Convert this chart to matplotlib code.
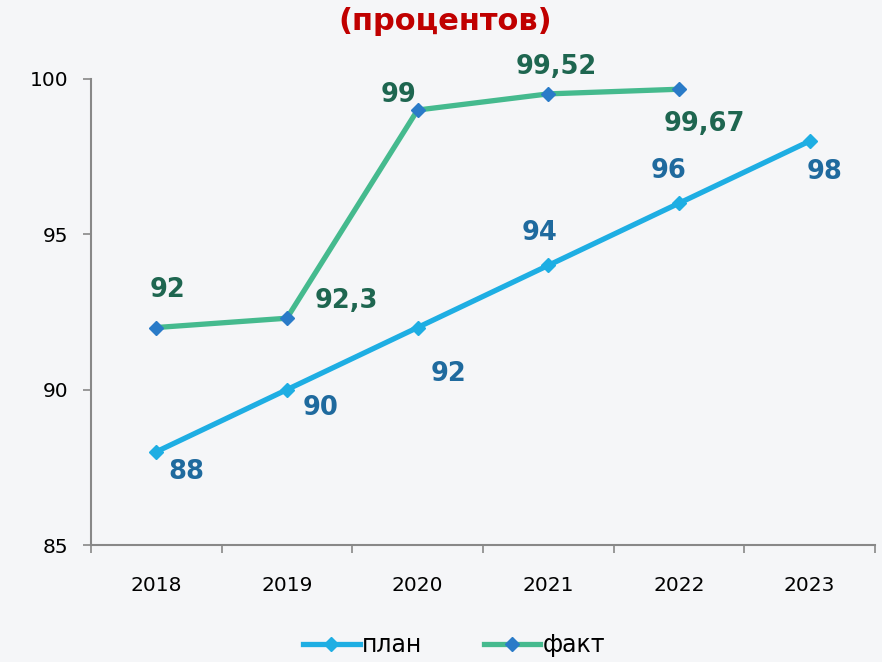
import numpy as np
import matplotlib.pyplot as plt

# data
years = ['2018', '2019', '2020', '2021', '2022', '2023']
plan = [88, 90, 92, 94, 96, 98]
fakt = [92, 92.3, 99, 99.52, 99.67]
plan_labels = ['88', '90', '92', '94', '96', '98']
fakt_labels = ['92', '92,3', '99', '99,52', '99,67']

# label offsets in pixels (dx, dy)
plan_off = [(30, -20), (34, -18), (31, -46), (-9, 32), (-10, 32), (15, -31)]
fakt_off = [(11, 38), (59, 17), (-19, 15), (8, 27), (25, -35)]

bg = '#f5f6f8'
fig = plt.figure(figsize=(8.82, 6.62), dpi=100, facecolor=bg)
ax = fig.add_axes([0.103, 0.1767, 0.889, 0.704], facecolor=bg)

x = np.arange(len(years))
ax.plot(x, plan, color='#1eaee3', lw=3.8, marker='D', ms=7,
        mfc='#1eaee3', mec='#1eaee3', label='план', zorder=3)
ax.plot(x[:len(fakt)], fakt, color='#45ba8e', lw=3.8, marker='D', ms=7,
        mfc='#2a7bc8', mec='#2a7bc8', label='факт', zorder=3)

for xi, v, s, (dx, dy) in zip(x, plan, plan_labels, plan_off):
    ax.annotate(s, (xi, v), xytext=(dx, dy), textcoords='offset pixels',
                ha='center', va='center', fontsize=18.5, fontweight='bold',
                color='#1f6a9e')
for xi, v, s, (dx, dy) in zip(x, fakt, fakt_labels, fakt_off):
    ax.annotate(s, (xi, v), xytext=(dx, dy), textcoords='offset pixels',
                ha='center', va='center', fontsize=18.5, fontweight='bold',
                color='#1e6650')

ax.set_xlim(-0.5, len(years) - 0.5)
ax.set_ylim(85, 100)
ax.set_yticks([85, 90, 95, 100])
ax.set_xticks(x)
ax.set_xticklabels(years)
ax.set_xticks(np.arange(-0.5, len(years)), minor=True)
ax.tick_params(axis='x', which='major', length=0, pad=22, labelsize=14.5)
ax.tick_params(axis='x', which='minor', length=6, color='#888888', width=1.2)
ax.tick_params(axis='y', length=6, color='#888888', width=1.2, pad=10, labelsize=14.5)

for sp in ['top', 'right']:
    ax.spines[sp].set_visible(False)
for sp in ['left', 'bottom']:
    ax.spines[sp].set_color('#888888')
    ax.spines[sp].set_linewidth(1.5)

fig.text(0.505, 0.968, '(процентов)', ha='center', va='center',
         fontsize=22, fontweight='bold', color='#c00000')

fig.legend(loc='center', bbox_to_anchor=(0.515, 0.025), ncol=2, frameon=False,
           fontsize=17, handlelength=2.4, columnspacing=2.6, handletextpad=0.1)

fig.savefig('out.png', dpi=100, facecolor=bg)
